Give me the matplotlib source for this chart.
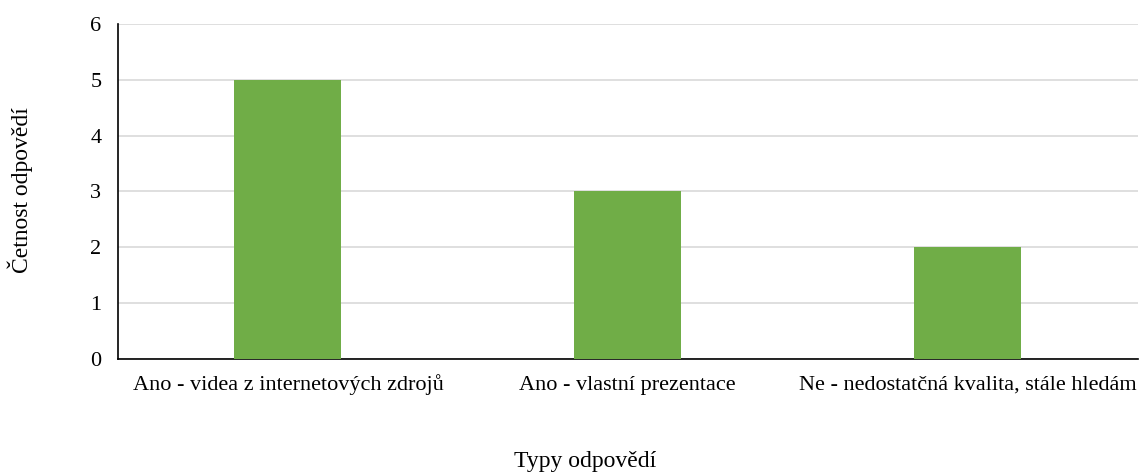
import matplotlib.pyplot as plt
import numpy as np

plt.rcParams['font.family'] = ['Liberation Serif', 'DejaVu Serif']

# data
kategorie = ['Ano - videa z internetových zdrojů', 'Ano - vlastní prezentace',
             'Ne - nedostatčná kvalita, stále hledám']
cetnost = [5, 3, 2]

fig = plt.figure(figsize=(11.41, 4.75), dpi=100)
ax = fig.add_axes([0.1034, 0.2442, 0.8936, 0.7053])

x = np.arange(len(kategorie))
ax.bar(x, cetnost, width=0.315, color='#70AD47', zorder=3)

ax.set_xlim(-0.5, 2.5)
ax.set_ylim(0, 6)
ax.set_yticks(range(0, 7))
ax.set_xticks(x)
ax.set_xticklabels(kategorie, va='baseline')
ax.yaxis.grid(True, color='#D9D9D9', linewidth=1.2, zorder=0)
ax.tick_params(axis='both', length=0, labelsize=16)
ax.tick_params(axis='x', pad=22)
ax.tick_params(axis='y', pad=12)

for s in ['top', 'right']:
    ax.spines[s].set_visible(False)
for s in ['left', 'bottom']:
    ax.spines[s].set_color('black')
    ax.spines[s].set_linewidth(1.2)

fig.text(0.018, 0.6, 'Četnost odpovědí', fontsize=17, rotation=90,
         ha='center', va='center')
fig.text(0.513, 0.028, 'Typy odpovědí', fontsize=17, ha='center', va='center')

fig.savefig('out.png', dpi=100)
